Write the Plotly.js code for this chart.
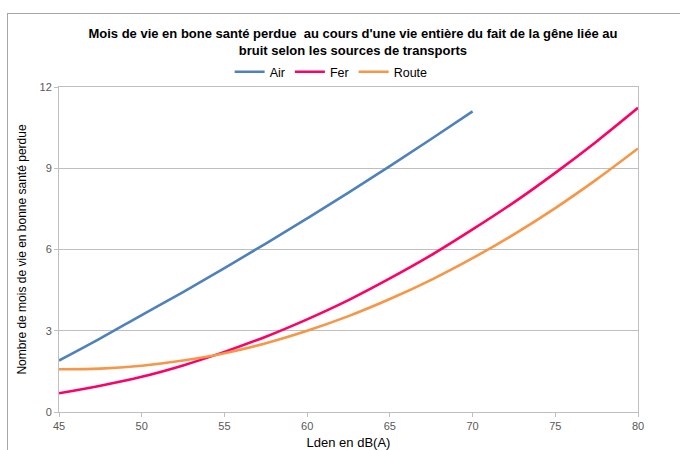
<!DOCTYPE html>
<html>
<head>
<meta charset="utf-8">
<script src="https://cdn.plot.ly/plotly-3.0.1.min.js"></script>
<style>
  html, body { margin: 0; padding: 0; background: #fff; }
  #wrap { position: relative; width: 680px; height: 450px; overflow: hidden; }
  #chart { position: absolute; left: 0; top: 0; width: 680px; height: 450px; }
  #frame { position: absolute; left: 7px; top: 13px; width: 700px; height: 460px;
           border-top: 1px solid #a6a6a6; border-left: 1px solid #a6a6a6; pointer-events: none; }
</style>
</head>
<body>
<div id="wrap">
  <div id="chart"></div>
  <div id="frame"></div>
</div>
<script>
// Lden (dB(A)) values
const ldenAir = [45, 47.5, 50, 52.5, 55, 57.5, 60, 62.5, 65, 67.5, 70];
const ldenRail = [45, 47.5, 50, 52.5, 55, 57.5, 60, 62.5, 65, 67.5, 70, 72.5, 75, 77.5, 80];
const ldenRoad = [45, 47.5, 50, 52.5, 55, 57.5, 60, 62.5, 65, 67.5, 70, 72.5, 75, 77.5, 80];

// Months of healthy life lost
const airValues = [1.9, 2.72, 3.58, 4.43, 5.31, 6.22, 7.15, 8.1, 9.08, 10.08, 11.1];
const ferValues = [0.69, 0.97, 1.3, 1.72, 2.22, 2.78, 3.42, 4.13, 4.93, 5.79, 6.74, 7.74, 8.83, 9.99, 11.23];
const routeValues = [1.58, 1.6, 1.71, 1.9, 2.17, 2.54, 3.0, 3.54, 4.17, 4.88, 5.68, 6.56, 7.53, 8.59, 9.73];

const seriesNames = ["Air", "Fer", "Route"];
const yTicks = [0, 3, 6, 9, 12];
const xTicks = [45, 50, 55, 60, 65, 70, 75, 80];

const titleLine1 = "Mois de vie en bone santé perdue  au cours d'une vie entière du fait de la gêne liée au";
const titleLine2 = "bruit selon les sources de transports";
const xTitle = "Lden en dB(A)";
const yTitle = "Nombre de mois de vie en bonne santé perdue";

const FONT = "Liberation Sans Narrow, Arial Narrow, sans-serif";

const traces = [
  { x: ldenAir, y: airValues, name: seriesNames[0], type: "scatter", mode: "lines",
    line: { color: "#4f81bd", width: 2.6, shape: "spline", smoothing: 1 } },
  { x: ldenRail, y: ferValues, name: seriesNames[1], type: "scatter", mode: "lines",
    line: { color: "#ff0066", width: 2.6, shape: "spline", smoothing: 1 } },
  { x: ldenRoad, y: routeValues, name: seriesNames[2], type: "scatter", mode: "lines",
    line: { color: "#f79646", width: 2.6, shape: "spline", smoothing: 1 } }
];

const layout = {
  width: 680, height: 450,
  margin: { l: 59, r: 42, t: 87, b: 38, pad: 0 },
  paper_bgcolor: "rgba(0,0,0,0)",
  plot_bgcolor: "#ffffff",
  font: { family: FONT, color: "#000" },
  title: {
    text: "<b>" + titleLine1 + "</b><br><b>" + titleLine2 + "</b>",
    font: { family: FONT, size: 13, color: "#000" },
    xref: "container", x: 0.519, xanchor: "center",
    yref: "container", y: 1 - 38 / 450, yanchor: "top"
  },
  showlegend: true,
  legend: {
    orientation: "h",
    x: 0.47, xanchor: "center",
    y: 1.046, yanchor: "middle",
    font: { family: FONT, size: 12.5, color: "#000" },
    itemwidth: 30,
    bgcolor: "rgba(0,0,0,0)"
  },
  xaxis: {
    range: [45, 80],
    tickvals: xTicks,
    ticktext: xTicks.map(String),
    showgrid: false,
    zeroline: false,
    showline: true, linecolor: "#bfbfbf", linewidth: 1, mirror: true,
    ticks: "outside", ticklen: 4, tickcolor: "#bfbfbf",
    tickfont: { family: FONT, size: 11, color: "#595959" },
    title: { text: xTitle, font: { family: FONT, size: 13, color: "#000" }, standoff: 8 }
  },
  yaxis: {
    range: [0, 12],
    tickvals: yTicks,
    ticktext: yTicks.map(String),
    showgrid: true, gridcolor: "#bfbfbf", gridwidth: 1,
    zeroline: false,
    showline: true, linecolor: "#bfbfbf", linewidth: 1, mirror: true,
    ticks: "outside", ticklen: 4, tickcolor: "#bfbfbf",
    tickfont: { family: FONT, size: 11, color: "#595959" },
    title: { text: yTitle, font: { family: FONT, size: 12, color: "#000" }, standoff: 10 }
  }
};

Plotly.newPlot("chart", traces, layout, { displayModeBar: false, staticPlot: true });
</script>
</body>
</html>
